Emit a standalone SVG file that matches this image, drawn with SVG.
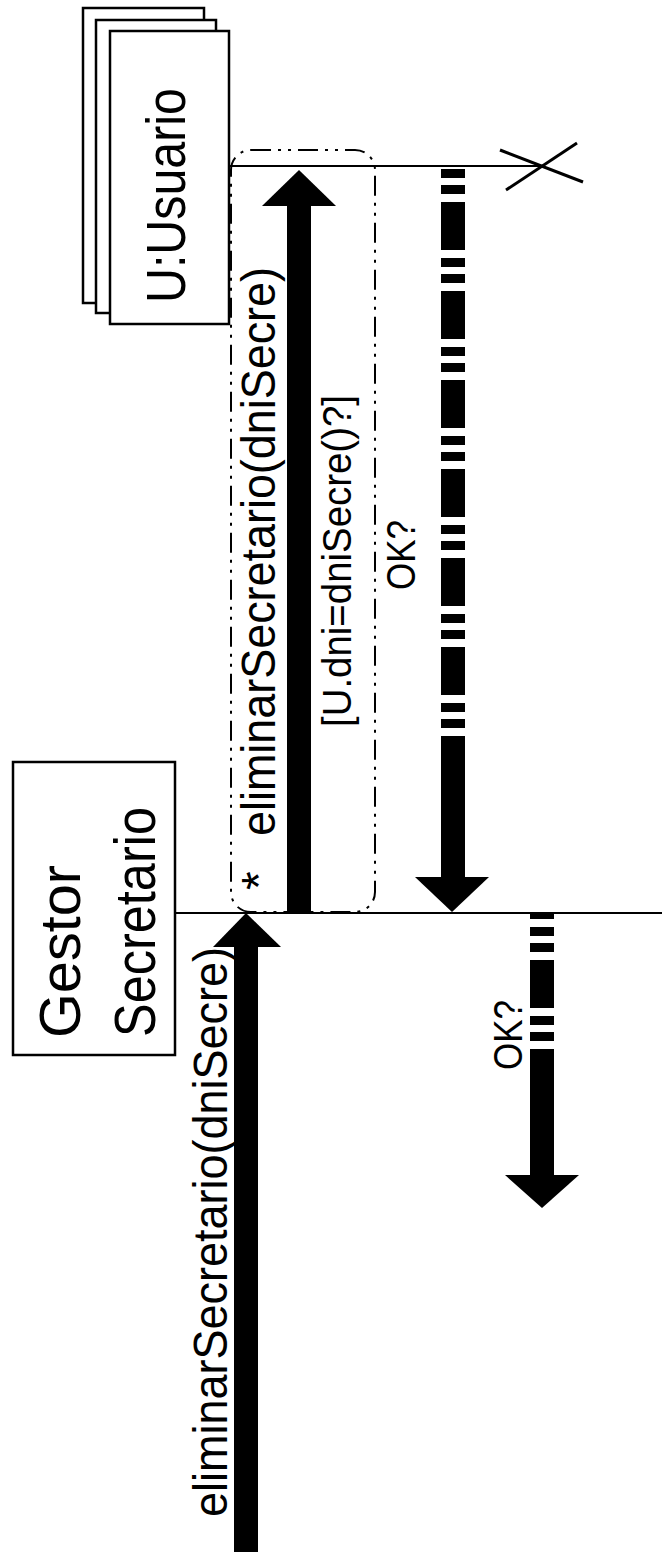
<svg xmlns="http://www.w3.org/2000/svg" width="662" height="1552" viewBox="0 0 662 1552">
<style>
.box{fill:#fff;stroke:#000;stroke-width:2.5}
.life{stroke:#000;stroke-width:2;fill:none}
.lbl{font-family:"Liberation Sans",Arial,sans-serif;fill:#000}
.shaft{stroke:#000;stroke-width:24;fill:none}
.dash{stroke:#000;stroke-width:24;fill:none;stroke-dasharray:48 8 9 7 9 8}
.frame{fill:none;stroke:#000;stroke-width:2;stroke-dasharray:20 7 3 7 3 7}
.head{fill:#000}
</style>
<rect width="662" height="1552" fill="#fff"/>
<g id="usuario">
  <rect class="box" x="83" y="8" width="121" height="295"/>
  <rect class="box" x="96" y="20" width="120" height="293"/>
  <rect class="box" x="110" y="31" width="119" height="293"/>
  <text class="lbl" font-size="56" textLength="215" lengthAdjust="spacingAndGlyphs" transform="translate(185,303) rotate(-90)">U:Usuario</text>
</g>
<g id="gestor">
  <rect class="box" x="13" y="762" width="162" height="293"/>
  <text class="lbl" font-size="58" textLength="173" lengthAdjust="spacingAndGlyphs" transform="translate(80,1038) rotate(-90)">Gestor</text>
  <text class="lbl" font-size="58" textLength="230" lengthAdjust="spacingAndGlyphs" transform="translate(155,1037) rotate(-90)">Secretario</text>
</g>
<g id="connectors">
  <line class="life" x1="229" y1="166" x2="542" y2="166"/>
  <line class="life" x1="175" y1="913" x2="662" y2="913"/>
  <line x1="500" y1="150" x2="583" y2="182" stroke="#000" stroke-width="3"/>
  <line x1="506" y1="190" x2="577" y2="143" stroke="#000" stroke-width="3"/>
  <rect class="frame" x="231" y="150" width="144" height="762" rx="20"/>
  <!-- incoming message -->
  <line class="shaft" x1="246" y1="1552" x2="246" y2="945" stroke-width="23"/>
  <polygon class="head" points="246,913 213,947 281,947"/>
  <text class="lbl" font-size="48" textLength="570" lengthAdjust="spacingAndGlyphs" transform="translate(227,1517) rotate(-90)">eliminarSecretario(dniSecre)</text>
  <!-- loop message -->
  <line class="shaft" x1="299" y1="913" x2="299" y2="204"/>
  <polygon class="head" points="299,170 262,206 336,206"/>
  <text class="lbl" font-size="48" transform="translate(275,890) rotate(-90)">*</text>
  <text class="lbl" font-size="48" textLength="569" lengthAdjust="spacingAndGlyphs" transform="translate(275,836) rotate(-90)">eliminarSecretario(dniSecre)</text>
  <text class="lbl" font-size="40" textLength="332" lengthAdjust="spacingAndGlyphs" transform="translate(351,727) rotate(-90)">[U.dni=dniSecre()?]</text>
  <text class="lbl" font-size="40" textLength="70" lengthAdjust="spacingAndGlyphs" transform="translate(415,590) rotate(-90)">OK?</text>
  <!-- return 1 -->
  <line class="dash" x1="453" y1="169" x2="453" y2="784" stroke-dashoffset="56"/>
  <line class="shaft" x1="453" y1="783" x2="453" y2="879"/>
  <polygon class="head" points="452,912 415,877 489,877"/>
  <!-- return 2 -->
  <line class="dash" x1="542" y1="912" x2="542" y2="1097" stroke-dashoffset="41"/>
  <line class="shaft" x1="542" y1="1096" x2="542" y2="1177"/>
  <polygon class="head" points="542,1208 505,1175 579,1175"/>
  <text class="lbl" font-size="40" textLength="70" lengthAdjust="spacingAndGlyphs" transform="translate(522,1070) rotate(-90)">OK?</text>
</g>
</svg>
